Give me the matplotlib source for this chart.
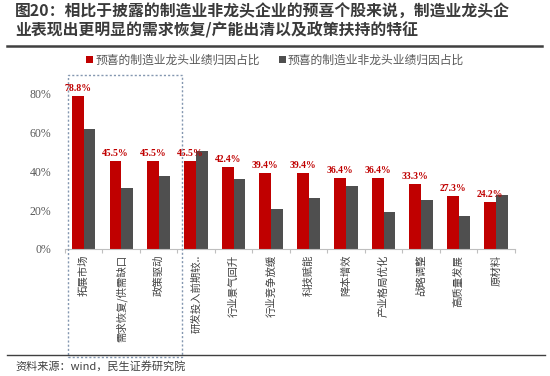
import matplotlib.pyplot as plt
from matplotlib.patches import Rectangle
from matplotlib.lines import Line2D
import numpy as np

plt.rcParams['font.family'] = ['Noto Sans CJK SC', 'DejaVu Sans']

# categories and the two series (share of attribution)
categories = ['拓展市场', '需求恢复/供需缺口', '政策驱动', '研发投入前期较..', '行业景气回升',
              '行业竞争放缓', '科技赋能', '降本增效', '产业格局优化', '战略调整', '高质量发展', '原材料']
leader = [78.8, 45.5, 45.5, 45.5, 42.4, 39.4, 39.4, 36.4, 36.4, 33.3, 27.3, 24.2]
non_leader = [61.9, 31.4, 37.6, 50.5, 36.0, 20.8, 26.3, 32.5, 19.2, 25.3, 17.0, 28.0]
legend_labels = ['预喜的制造业龙头业绩归因占比', '预喜的制造业非龙头业绩归因占比']
title = '图20：相比于披露的制造业非龙头企业的预喜个股来说，制造业龙头企\n业表现出更明显的需求恢复/产能出清以及政策扶持的特征'
source = '资料来源：wind，民生证券研究院'

red = '#C00000'
dark = '#4F4F4F'

fig = plt.figure(figsize=(5.5, 3.76), dpi=100)
ax = fig.add_axes([0.118, 0.338, 0.818, 0.464])

x = np.arange(len(categories))
w = 0.31
ax.bar(x - w / 2, leader, w, color=red, label=legend_labels[0])
ax.bar(x + w / 2, non_leader, w, color=dark, label=legend_labels[1])

for xi, v in zip(x, leader):
    ax.text(xi - w / 2, v + 1.5, '%.1f%%' % v, ha='center', va='bottom', color=red,
            fontsize=7, fontweight='bold', family='Liberation Serif')

ax.set_xlim(-0.5, len(categories) - 0.5)
ax.set_ylim(0, 90)
ax.set_yticks([0, 20, 40, 60, 80])
ax.set_yticklabels(['0%', '20%', '40%', '60%', '80%'], family='Liberation Serif', fontsize=8.5, color='#595959')
ax.tick_params(axis='y', length=0, pad=10)

ax.set_xticks(np.append(x - 0.5, x[-1] + 0.5))
ax.set_xticklabels([])
ax.tick_params(axis='x', length=3, color='#BFBFBF', direction='out')
for xi, lab in zip(x, categories):
    ax.text(xi, -3, lab, rotation=90, ha='center', va='top', fontsize=7.5, color='#404040')

for s in ['top', 'right', 'left']:
    ax.spines[s].set_visible(False)
ax.spines['bottom'].set_color('#BFBFBF')

fig.legend(handles=ax.containers, labels=legend_labels, loc='center', bbox_to_anchor=(0.5, 1 - 60 / 376),
           ncol=2, frameon=False, fontsize=8.5, handlelength=0.6, handleheight=0.6,
           handletextpad=0.2, columnspacing=1.6, labelcolor='#595959')

# dashed box around the first three categories
fig.patches.append(Rectangle((68 / 550, 1 - 357 / 376), (182 - 68) / 550, (357 - 75) / 376,
                             transform=fig.transFigure, fill=False, ls=(0, (1.5, 1.5)),
                             ec='#8497B0', lw=1))

fig.text(0.027, 0.99, title, ha='left', va='top', fontsize=11.4, fontweight='bold', color='#3A3A3A',
         linespacing=1.2)
fig.add_artist(Line2D([0.013, 0.985], [0.878, 0.878], color='#404040', lw=1.8))
fig.add_artist(Line2D([0.013, 0.99], [0.055, 0.055], color='#404040', lw=1.0))
fig.text(0.029, 0.027, source, ha='left', va='center', fontsize=8, color='#404040')

fig.savefig('out.png', dpi=100)
